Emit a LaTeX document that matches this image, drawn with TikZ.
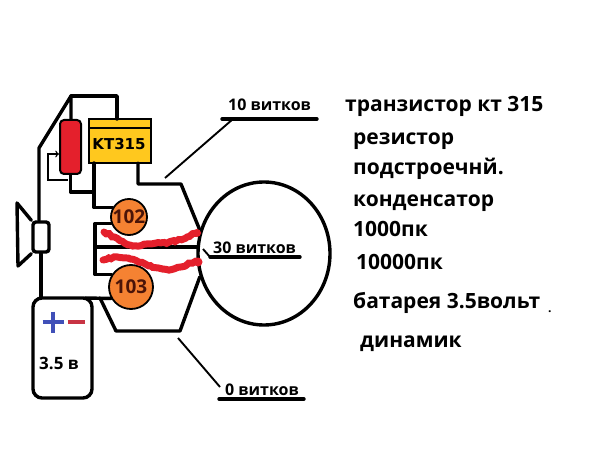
\documentclass[tikz,border=0pt]{standalone}
\usepackage{fontspec}
\setmainfont{Open Sans}
\usepackage{xcolor}
\usetikzlibrary{shapes.geometric}
\usetikzlibrary{calc}
\usetikzlibrary{decorations.pathmorphing}

\definecolor{resred}{HTML}{E4202C}
\definecolor{ktyellow}{HTML}{FFC81E}
\definecolor{capfill}{HTML}{F58232}
\definecolor{capink}{HTML}{4A1408}
\definecolor{plusblue}{HTML}{4050B8}
\definecolor{minusred}{HTML}{C83444}

\tikzset{
    wire/.style={line width=3.4pt, line join=round, line cap=round},
    leader/.style={line width=1.9pt},
    capnode/.style={circle, draw, line width=1.8pt, fill=capfill, inner sep=0pt, text=capink,
        font=\bfseries\fontsize{19}{19}\selectfont},
    listtext/.style={anchor=base west, inner sep=0pt, font=\bfseries\fontsize{21}{21}\selectfont},
    turntext/.style={anchor=base west, inner sep=0pt, font=\bfseries\fontsize{16}{16}\selectfont},
    redmark/.style={line width=7pt, draw=resred, line cap=round},
}

\begin{document}
\begin{tikzpicture}[x=1pt, y=-1pt]
    \useasboundingbox (0,0) rectangle (604,462);

    \node[draw, line width=2pt, rounded corners=4pt, fill=resred, minimum width=21pt, minimum height=54pt, inner sep=0pt] (res) at (70.5,147) {};
    \node[draw, line width=2pt, fill=ktyellow, minimum width=62pt, minimum height=44pt, inner sep=0pt] (kt) at (120,141) {};
    \draw[line width=1.6pt] ($(kt.north west)+(0,10)$) -- ($(kt.north east)+(0,10)$);
    \node[inner sep=0pt, font=\fontspec{DejaVu Sans Bold}\fontsize{15}{15}\selectfont] (kttext) at (119,144) {KT315};
    \node[capnode, minimum size=36pt] (c102) at (129,217) {102};
    \node[capnode, minimum size=44pt] (c103) at (131,287) {103};
    \node[ellipse, draw, line width=3.4pt, minimum width=132pt, minimum height=143pt, inner sep=0pt] (coil) at (264,253.5) {};
    \node[draw, line width=3.4pt, rounded corners=3pt, minimum width=16pt, minimum height=30pt, inner sep=0pt] (spk) at (41,237) {};
    \node[draw, line width=3.4pt, rounded corners=9pt, minimum width=59pt, minimum height=100pt, inner sep=0pt] (bat) at (62.5,348) {};

    \coordinate (top) at (71,96);
    \coordinate (side) at (39,148);
    \coordinate (ktin) at (117,119);
    \coordinate (ktb) at (94,163);
    \coordinate (ktc) at (138,163);
    \coordinate (bend) at (181,184);
    \coordinate (resdown) at (94,192);
    \coordinate (midl) at (95,247);
    \coordinate (batwire) at (85,298);
    \coordinate (low1) at (100,298);
    \coordinate (low2) at (116,331);
    \coordinate (low3) at (180,331);

    % wiring
    \draw[wire] (res.north -| top) -- (top) -- (side) -- (side |- spk.north);
    \draw[wire] (top) -| (ktin);
    \draw[wire] (res.south) |- (resdown);
    \draw[wire] (ktb) |- (c102.150);
    \draw[wire] (ktc) |- (bend) -- (coil.160);
    \draw[wire] (c102.200) -| (midl) |- (c103.147);
    \draw[wire] (midl) -- (midl -| coil.west);
    \draw[wire] (spk.south) -- (spk.south |- bat.north);
    \draw[wire] (batwire) -- (c103.210);
    \draw[wire] (low1) -- (low2) -- (low3) -- (coil.200);

    % speaker cone
    \coordinate (conea) at (17,203);
    \coordinate (coneb) at (18,266);
    \draw[wire] (spk.north west) -- (conea) -- (coneb) -- (spk.south west);

    % trimmer arrow
    \coordinate (trima) at (68,180);
    \coordinate (trimb) at (48,180);
    \coordinate (trimc) at (48,154);
    \draw[line width=1.4pt, ->] (trima) -- (trimb) -- (trimc) -- (res.west |- trimc);

    % battery signs
    \coordinate (plus) at (53,322);
    \draw[line width=3.5pt, plusblue] ($(plus)+(-10.5,0)$) -- ($(plus)+(10.5,0)$);
    \draw[line width=3.5pt, plusblue] ($(plus)+(0,-10.5)$) -- ($(plus)+(0,10.5)$);
    \coordinate (minus) at (76,322);
    \draw[line width=4pt, minusred] ($(minus)+(-8.5,0)$) -- ($(minus)+(8.5,0)$);
    \node[anchor=base west, inner sep=0pt, font=\bfseries\fontsize{17}{17}\selectfont] (battext) at (39,369) {3.5 в};

    % turn labels
    \node[turntext] (t10) at (228,111) {10 витков};
    \coordinate (u10a) at (222,119);
    \coordinate (u10b) at (317,119);
    \coordinate (l10a) at (165,178);
    \coordinate (l10b) at (233,119);
    \draw[wire] (u10a) -- (u10b);
    \draw[leader] (l10a) -- (l10b);

    \node[turntext] (t30) at (213,253) {30 витков};
    \coordinate (u30a) at (210,257);
    \coordinate (u30b) at (300,257);
    \coordinate (l30) at (203,249);
    \draw[wire] (u30a) -- (u30b);
    \draw[leader] (l30) -- (u30a);

    \node[turntext] (t0) at (225,395) {0 витков};
    \coordinate (u0a) at (219,399);
    \coordinate (u0b) at (304,399);
    \coordinate (l0a) at (178,338);
    \coordinate (l0b) at (220,387);
    \draw[wire] (u0a) -- (u0b);
    \draw[leader] (l0a) -- (l0b);

    % red marks across the coil leads
    \draw[redmark, decorate, decoration={random steps, segment length=3pt, amplitude=0.9pt}] (104,232) to[out=-25, in=160] (130,245) to[out=-20, in=175] (158,243) to[out=0, in=200] (197,233);
    \draw[redmark, decorate, decoration={random steps, segment length=3pt, amplitude=0.9pt}] (103,260) to[out=15, in=175] (125,258) to[out=-10, in=170] (163,269) to[out=-10, in=185] (198,262);
    \fill[resred] (197,233) circle (4pt);
    \fill[resred] (198,262) circle (4.5pt);

    % parts list
    \node[listtext] (li1) at (345,112) {транзистор кт 315};
    \node[listtext] (li2) at (353,145) {резистор};
    \node[listtext] (li3) at (353,175) {подстроечнй.};
    \node[listtext] (li4) at (353,207) {конденсатор};
    \node[listtext] (li5) at (353,236) {1000пк};
    \node[listtext] (li6) at (356,269) {10000пк};
    \node[listtext] (li7) at (353,308) {батарея 3.5вольт};
    \node[anchor=base west, inner sep=0pt, font=\bfseries\fontsize{12}{12}\selectfont] (li7dot) at (548,312) {.};
    \node[listtext] (li8) at (360,347) {динамик};
\end{tikzpicture}
\end{document}
